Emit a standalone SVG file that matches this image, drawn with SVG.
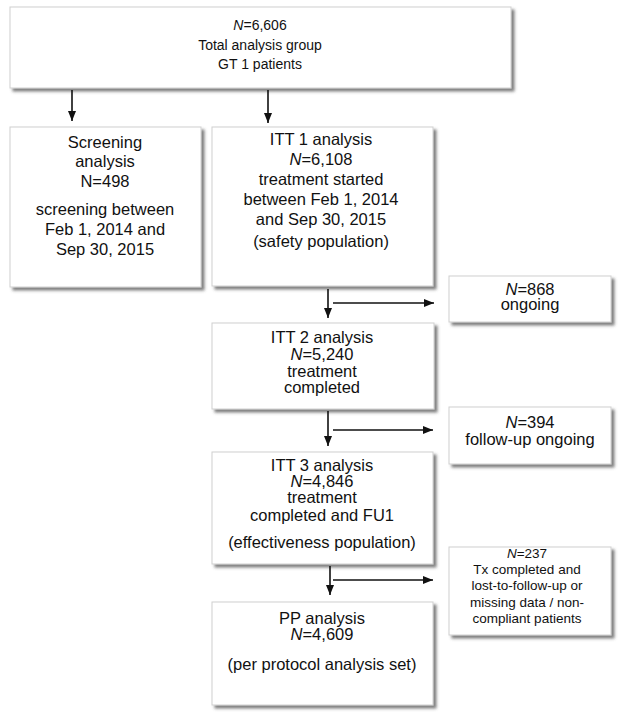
<svg xmlns="http://www.w3.org/2000/svg" width="626" height="721" viewBox="0 0 626 721">
<style>
.box{fill:#fff;stroke:#cfcfcf;stroke-width:1;filter:url(#sh)}
.t{font-family:"Liberation Sans",Arial,sans-serif;font-size:16.5px;fill:#111;text-anchor:middle}
.s{font-size:14px}
.m{font-size:13.5px}
.i{font-style:italic}
.c{stroke:#111;stroke-width:1.6;fill:none;marker-end:url(#ah)}
</style>
<defs>
<filter id="sh" x="-10%" y="-10%" width="130%" height="130%">
<feDropShadow dx="3" dy="3" stdDeviation="1.5" flood-color="#444" flood-opacity="0.7"/>
</filter>
<marker id="ah" viewBox="0 0 10 8" refX="10" refY="4" markerWidth="10" markerHeight="8" markerUnits="userSpaceOnUse" orient="auto">
<path d="M0,0 L10,4 L0,8 z" fill="#111"/>
</marker>
</defs>
<g id="total">
<rect class="box" x="10" y="7" width="501" height="81"/>
<text class="t s" x="260" y="30"><tspan class="i">N</tspan>=6,606</text>
<text class="t s" x="260" y="50">Total analysis group</text>
<text class="t s" x="260" y="69">GT 1 patients</text>
</g>
<g id="screening">
<rect class="box" x="10" y="127" width="191" height="160"/>
<text class="t" x="105" y="148">Screening</text>
<text class="t" x="105" y="167">analysis</text>
<text class="t" x="105" y="187">N=498</text>
<text class="t" x="105" y="215">screening between</text>
<text class="t" x="105" y="235">Feb 1, 2014 and</text>
<text class="t" x="105" y="255">Sep 30, 2015</text>
</g>
<g id="itt1">
<rect class="box" x="212" y="127" width="221" height="159"/>
<text class="t" x="321" y="145">ITT 1 analysis</text>
<text class="t" x="321" y="165"><tspan class="i">N</tspan>=6,108</text>
<text class="t" x="321" y="185">treatment started</text>
<text class="t" x="321" y="205">between Feb 1, 2014</text>
<text class="t" x="321" y="225">and Sep 30, 2015</text>
<text class="t" x="321" y="247">(safety population)</text>
</g>
<g id="ongoing">
<rect class="box" x="449" y="276" width="162" height="46"/>
<text class="t" x="530" y="295"><tspan class="i">N</tspan>=868</text>
<text class="t" x="530" y="310">ongoing</text>
</g>
<g id="itt2">
<rect class="box" x="212" y="323" width="222" height="86"/>
<text class="t" x="322" y="343">ITT 2 analysis</text>
<text class="t" x="322" y="360"><tspan class="i">N</tspan>=5,240</text>
<text class="t" x="322" y="377">treatment</text>
<text class="t" x="322" y="393">completed</text>
</g>
<g id="followup">
<rect class="box" x="449" y="407" width="162" height="57"/>
<text class="t" x="530" y="428"><tspan class="i">N</tspan>=394</text>
<text class="t" x="530" y="445">follow-up ongoing</text>
</g>
<g id="itt3">
<rect class="box" x="212" y="452" width="221" height="112"/>
<text class="t" x="322" y="471">ITT 3 analysis</text>
<text class="t" x="322" y="487"><tspan class="i">N</tspan>=4,846</text>
<text class="t" x="322" y="503">treatment</text>
<text class="t" x="322" y="521">completed and FU1</text>
<text class="t" x="322" y="548">(effectiveness population)</text>
</g>
<g id="lost">
<rect class="box" x="449" y="547" width="162" height="88"/>
<text class="t m" x="527" y="558"><tspan class="i">N</tspan>=237</text>
<text class="t m" x="527" y="574">Tx completed and</text>
<text class="t m" x="527" y="590">lost-to-follow-up or</text>
<text class="t m" x="527" y="607">missing data / non-</text>
<text class="t m" x="527" y="623">compliant patients</text>
</g>
<g id="pp">
<rect class="box" x="212" y="602" width="221" height="103"/>
<text class="t" x="322" y="624">PP analysis</text>
<text class="t" x="322" y="640"><tspan class="i">N</tspan>=4,609</text>
<text class="t" x="322" y="670">(per protocol analysis set)</text>
</g>
<g id="connectors">
<line class="c" x1="72" y1="90" x2="72" y2="121"/>
<line class="c" x1="268" y1="90" x2="268" y2="123"/>
<line class="c" x1="328" y1="289" x2="328" y2="318"/>
<line class="c" x1="333" y1="303" x2="434" y2="303"/>
<line class="c" x1="328" y1="411" x2="328" y2="446"/>
<line class="c" x1="333" y1="430" x2="433" y2="430"/>
<line class="c" x1="330" y1="566" x2="330" y2="595"/>
<line class="c" x1="333" y1="580" x2="433" y2="580"/>
</g>
</svg>
